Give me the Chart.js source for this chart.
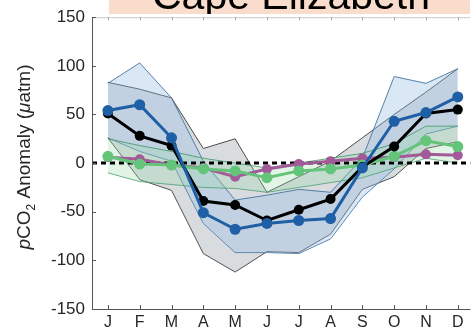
<!DOCTYPE html>
<html>
<head>
<meta charset="utf-8">
<script src="https://cdn.jsdelivr.net/npm/chart.js@4/dist/chart.umd.min.js"></script>
<style>
  html, body { margin: 0; padding: 0; background: #fff; }
  #wrap { width: 476px; height: 334px; }
</style>
</head>
<body>
<div id="wrap"><canvas id="chart" width="476" height="334"></canvas></div>
<script>
// month labels and tick values
const months = ["J", "F", "M", "A", "M", "J", "J", "A", "S", "O", "N", "D"];
const yTicks = [-150, -100, -50, 0, 50, 100, 150];

// monthly pCO2 anomalies (uatm)
const blackMean = [51, 28, 18, -39, -43, -59, -48, -37, -4, 17, 51, 55];
const blueMean = [54, 60, 26, -51, -68, -62, -59, -57, -5, 43, 52, 68];
const greenMean = [7, -1, -2, -6, -8, -15, -8, -6, -2, 7, 23, 17];
const purpleMean = [6, 4, -2, -5, -14, -6, -1, 2, 5, 6, 9, 8];

// envelopes
const grayUpper = [83, 76, 67, 15, 25, -30, -14, 2, 26, 50, 73, 97];
const grayLower = [26, -17, -28, -93, -112, -91, -92, -73, -27, -14, 15, 22];
const blueUpper = [82, 103, 67, 2, -38, -33, -27, -30, 5, 89, 82, 97];
const blueLower = [26, 12, 2, -62, -92, -92, -93, -78, -35, -6, 30, 38];
const greenUpper = [25, 18, 12, 5, 0, -5, 0, 5, 10, 20, 38, 38];
const greenLower = [-10, -19, -22, -25, -26, -30, -25, -20, -15, -5, 5, 0];

const X_MIN = -0.5, X_MAX = 11.4;

function pts(arr) {
  return arr.map((v, i) => ({ x: i, y: v }));
}

function meanLine(label, values, color, radius, order) {
  return {
    label, data: pts(values), borderColor: color, backgroundColor: color,
    borderWidth: 3, pointRadius: radius, pointBorderWidth: 0,
    fill: false, tension: 0, order
  };
}

function bandEdge(label, values, edge, fillColor, target, order) {
  return {
    label, data: pts(values), borderColor: edge, borderWidth: 1,
    pointRadius: 0, backgroundColor: fillColor,
    fill: target === null ? false : { target: target },
    tension: 0, order
  };
}

const datasets = [
  meanLine("blue", blueMean, "#1f5fa6", 5.5, 0),            // 0
  meanLine("black", blackMean, "#000000", 5, 1),            // 1
  meanLine("green", greenMean, "#63c47a", 5.5, 2),          // 2
  meanLine("purple", purpleMean, "#a25a98", 5, 3),          // 3
  {                                                          // 4 zero line
    label: "zero", data: [{ x: X_MIN, y: 0 }, { x: X_MAX, y: 0 }],
    borderColor: "#000", borderWidth: 3, borderDash: [5, 4],
    pointRadius: 0, fill: false, order: 4
  },
  bandEdge("greenUp", greenUpper, "rgba(60,150,100,0.8)", "rgba(150,215,165,0.28)", 6, 5), // 5
  bandEdge("greenLo", greenLower, "rgba(60,150,100,0.8)", "transparent", null, 5),        // 6
  bandEdge("blueUp", blueUpper, "rgba(70,115,160,0.9)", "rgba(150,190,228,0.35)", 8, 6),  // 7
  bandEdge("blueLo", blueLower, "rgba(70,115,160,0.9)", "transparent", null, 6),          // 8
  bandEdge("grayUp", grayUpper, "#4a4a4a", "rgba(120,128,140,0.28)", 10, 7),              // 9
  bandEdge("grayLo", grayLower, "#4a4a4a", "transparent", null, 7)                        // 10
];

// title box, axis frame with inward ticks, y axis label
const decorations = {
  id: "decorations",
  afterDraw(chart) {
    const { ctx, chartArea: a, scales: { x, y } } = chart;
    ctx.save();

    // frame
    ctx.lineWidth = 1;
    ctx.strokeStyle = "#c8c8c8";
    ctx.beginPath();
    ctx.moveTo(a.left, a.top + 0.5);
    ctx.lineTo(a.right, a.top + 0.5);
    ctx.stroke();
    ctx.strokeStyle = "#555";
    ctx.beginPath();
    ctx.moveTo(a.left + 0.5, a.top);
    ctx.lineTo(a.left + 0.5, a.bottom + 0.5);
    ctx.lineTo(a.right, a.bottom + 0.5);
    ctx.stroke();

    // inward ticks
    months.forEach((m, i) => {
      const px = Math.round(x.getPixelForValue(i)) + 0.5;
      ctx.strokeStyle = "#555";
      ctx.beginPath();
      ctx.moveTo(px, a.bottom);
      ctx.lineTo(px, a.bottom - 4);
      ctx.stroke();
      ctx.strokeStyle = "#aaa";
      ctx.beginPath();
      ctx.moveTo(px, a.top);
      ctx.lineTo(px, a.top + 3);
      ctx.stroke();
    });
    ctx.strokeStyle = "#555";
    yTicks.forEach(v => {
      const py = Math.round(y.getPixelForValue(v)) + 0.5;
      ctx.beginPath();
      ctx.moveTo(a.left, py);
      ctx.lineTo(a.left + 4, py);
      ctx.stroke();
    });

    // title (cut off at the top)
    ctx.fillStyle = "#f9dccb";
    ctx.fillRect(109, 0, 361, 14);
    ctx.beginPath();
    ctx.rect(109, 0, 361, 14);
    ctx.clip();
    ctx.fillStyle = "#000";
    ctx.font = "41px 'Liberation Sans', Arial, sans-serif";
    ctx.textAlign = "center";
    ctx.textBaseline = "alphabetic";
    ctx.fillText("Cape Elizabeth", 291, 9);
    ctx.restore();

    // y axis label: pCO2 Anomaly (uatm)
    ctx.save();
    ctx.translate(30, 157);
    ctx.rotate(-Math.PI / 2);
    ctx.fillStyle = "#262626";
    ctx.textBaseline = "alphabetic";
    const fs = 19;
    const reg = fs + "px 'Liberation Sans', Arial, sans-serif";
    const ita = "italic " + reg;
    const sub = Math.round(fs * 0.65) + "px 'Liberation Sans', Arial, sans-serif";
    const parts = [
      { t: "p", f: ita, dy: 0 },
      { t: "CO", f: reg, dy: 0 },
      { t: "2", f: sub, dy: 5 },
      { t: " Anomaly (", f: reg, dy: 0 },
      { t: "\u03bc", f: ita, dy: 0 },
      { t: "atm)", f: reg, dy: 0 }
    ];
    let total = 0;
    parts.forEach(p => { ctx.font = p.f; p.w = ctx.measureText(p.t).width; total += p.w; });
    let cx = -total / 2;
    parts.forEach(p => {
      ctx.font = p.f;
      ctx.fillText(p.t, cx, p.dy);
      cx += p.w;
    });
    ctx.restore();
  }
};

new Chart(document.getElementById("chart"), {
  type: "line",
  data: { datasets },
  options: {
    responsive: false,
    animation: false,
    layout: { padding: { top: 16, left: 0, right: 0, bottom: 0 } },
    plugins: { legend: { display: false }, tooltip: { enabled: false } },
    scales: {
      x: {
        type: "linear", min: X_MIN, max: X_MAX,
        grid: { display: false, drawTicks: false }, border: { display: false },
        afterBuildTicks: s => { s.ticks = months.map((m, i) => ({ value: i })); },
        afterFit: s => { s.height = 25; },
        ticks: {
          autoSkip: false, maxRotation: 0, padding: 4,
          color: "#262626",
          font: { family: "'Liberation Sans', Arial, sans-serif", size: 16 },
          callback: v => months[v] ?? ""
        }
      },
      y: {
        min: -150, max: 150,
        grid: { display: false, drawTicks: false }, border: { display: false },
        afterBuildTicks: s => { s.ticks = yTicks.map(v => ({ value: v })); },
        afterFit: s => { s.width = 92; },
        ticks: {
          padding: 7, color: "#262626",
          font: { family: "'Liberation Sans', Arial, sans-serif", size: 17 }
        }
      }
    }
  },
  plugins: [decorations]
});
</script>
</body>
</html>
